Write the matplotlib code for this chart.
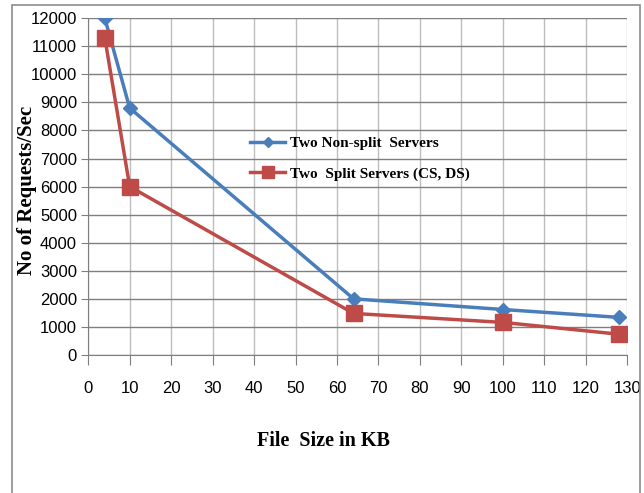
import matplotlib.pyplot as plt
from matplotlib.patches import Rectangle

# data
file_size = [4, 10, 64, 100, 128]
non_split = [12000, 8800, 2000, 1620, 1340]
split = [11300, 6000, 1480, 1160, 740]

sans = ['Liberation Sans', 'DejaVu Sans']
serif = ['Liberation Serif', 'DejaVu Serif']

fig = plt.figure(figsize=(6.44, 4.93), dpi=100)
ax = fig.add_axes([0.137, 0.280, 0.837, 0.683])

# outer chart border
fig.patches.append(Rectangle((0.019, -0.05), 0.975, 1.04, transform=fig.transFigure,
                             fill=False, edgecolor='#8c8c8c', linewidth=1.2))

ax.plot(file_size, non_split, color='#4a7ebb', linewidth=2.5, marker='D', markersize=7,
        label='Two Non-split  Servers', zorder=3)
ax.plot(file_size, split, color='#be4b48', linewidth=2.5, marker='s', markersize=11,
        label='Two  Split Servers (CS, DS)', zorder=3)

ax.set_xlim(0, 130)
ax.set_ylim(0, 12000)
ax.set_xticks(range(0, 131, 10))
ax.set_yticks(range(0, 12001, 1000))

ax.grid(axis='x', color='#bdbdbd', linewidth=1)
ax.grid(axis='y', color='#7f7f7f', linewidth=1)
ax.set_axisbelow(True)

for s in ['top', 'right']:
    ax.spines[s].set_visible(False)
for s in ['left', 'bottom']:
    ax.spines[s].set_color('#7f7f7f')

ax.tick_params(axis='x', direction='out', length=7, pad=12, color='#7f7f7f', labelsize=12)
ax.tick_params(axis='y', direction='out', length=5, pad=3, color='#7f7f7f', labelsize=12)
for lbl in ax.get_xticklabels() + ax.get_yticklabels():
    lbl.set_family(sans)

ax.set_xlabel('File  Size in KB', family=serif, fontweight='bold', fontsize=14.5)
ax.xaxis.set_label_coords(0.436, -0.225)
ax.set_ylabel('No of Requests/Sec', family=serif, fontweight='bold', fontsize=15)
ax.yaxis.set_label_coords(-0.095, 0.49)

leg = ax.legend(loc='upper left', bbox_to_anchor=(0.275, 0.69), frameon=False,
                prop={'family': serif, 'weight': 'bold', 'size': 11},
                handlelength=2.3, handletextpad=0.3, labelspacing=1.1, markerscale=0.8)

fig.savefig('out.png', dpi=100)
